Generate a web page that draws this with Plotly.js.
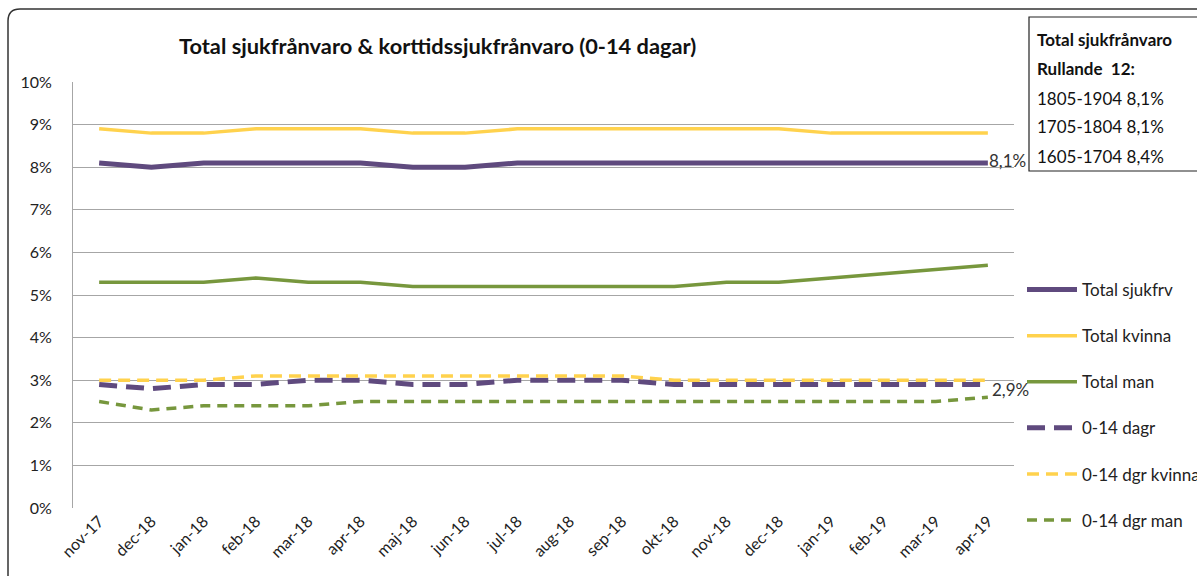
<!DOCTYPE html>
<html>
<head>
<meta charset="utf-8">
<script src="https://cdn.plot.ly/plotly-3.0.1.min.js"></script>
<style>
  html, body { margin: 0; padding: 0; background: #ffffff; }
  #chart { width: 1197px; height: 576px; }
</style>
</head>
<body>
<div id="chart"></div>
<script>
// ---- data ----
var months = ['nov-17','dec-18','jan-18','feb-18','mar-18','apr-18','maj-18','jun-18','jul-18','aug-18','sep-18','okt-18','nov-18','dec-18','jan-19','feb-19','mar-19','apr-19'];
var totalSjukfrv  = [8.1,8.0,8.1,8.1,8.1,8.1,8.0,8.0,8.1,8.1,8.1,8.1,8.1,8.1,8.1,8.1,8.1,8.1];
var totalKvinna   = [8.9,8.8,8.8,8.9,8.9,8.9,8.8,8.8,8.9,8.9,8.9,8.9,8.9,8.9,8.8,8.8,8.8,8.8];
var totalMan      = [5.3,5.3,5.3,5.4,5.3,5.3,5.2,5.2,5.2,5.2,5.2,5.2,5.3,5.3,5.4,5.5,5.6,5.7];
var dagr014       = [2.9,2.8,2.9,2.9,3.0,3.0,2.9,2.9,3.0,3.0,3.0,2.9,2.9,2.9,2.9,2.9,2.9,2.9];
var dgrKvinna014  = [3.0,3.0,3.0,3.1,3.1,3.1,3.1,3.1,3.1,3.1,3.1,3.0,3.0,3.0,3.0,3.0,3.0,3.0];
var dgrMan014     = [2.5,2.3,2.4,2.4,2.4,2.5,2.5,2.5,2.5,2.5,2.5,2.5,2.5,2.5,2.5,2.5,2.5,2.6];
var yTicks = [0,1,2,3,4,5,6,7,8,9,10];
var yTickText = ['0%','1%','2%','3%','4%','5%','6%','7%','8%','9%','10%'];
var boxLines = ['<b>Total sjukfrånvaro</b>', '<b>Rullande  12:</b>', '1805-1904 8,1%', '1705-1804 8,1%', '1605-1704 8,4%'];
var chartTitle = 'Total sjukfrånvaro & korttidssjukfrånvaro (0-14 dagar)';

// ---- styling ----
var PURPLE = '#5f4a7e';
var YELLOW = '#ffd24d';
var GREEN  = '#77973d';
var FONT = 'Lato, "Open Sans", sans-serif';
var W = 1197, H = 576;
var M = {l: 73, r: 183, t: 82, b: 68, autoexpand: false};
var pw = W - M.l - M.r, ph = H - M.t - M.b;
function px(x) { return (x - M.l) / pw; }
function py(y) { return (H - M.b - y) / ph; }

var xIdx = months.map(function (m, i) { return i; });

function tr(name, y, color, width, dash) {
  return {
    type: 'scatter', mode: 'lines', name: name, x: xIdx, y: y,
    line: {color: color, width: width, dash: dash || 'solid'},
    legendgroup: name, hoverinfo: 'skip'
  };
}

var data = [
  tr('Total sjukfrv', totalSjukfrv, PURPLE, 5),
  tr('Total kvinna', totalKvinna, YELLOW, 3.5),
  tr('Total man', totalMan, GREEN, 3.5),
  tr('0-14 dagr', dagr014, PURPLE, 5, '18px,9px'),
  tr('0-14 dgr kvinna', dgrKvinna014, YELLOW, 3.5, '12px,7px'),
  tr('0-14 dgr man', dgrMan014, GREEN, 3.5, '10px,7px')
];

var last = months.length - 1;
function fmt(v) { return v.toFixed(1).replace('.', ',') + '%'; }

var annotations = [
  {x: last, y: totalSjukfrv[last], xref: 'x', yref: 'y', text: fmt(totalSjukfrv[last]),
   showarrow: false, xanchor: 'left', yanchor: 'middle', xshift: -1, yshift: 2,
   font: {family: FONT, size: 17, color: '#333'}},
  {x: last, y: dagr014[last], xref: 'x', yref: 'y', text: fmt(dagr014[last]),
   showarrow: false, xanchor: 'left', yanchor: 'middle', xshift: 2, yshift: -5,
   font: {family: FONT, size: 17, color: '#333'}},
  {x: px(437), y: py(46), xref: 'paper', yref: 'paper', text: '<b>' + chartTitle + '</b>',
   showarrow: false, xanchor: 'center', yanchor: 'middle',
   font: {family: FONT, size: 21.8, color: '#111'}}
];
var boxY = [40, 69, 98, 127, 156];
boxLines.forEach(function (t, i) {
  annotations.push({x: px(1035), y: py(boxY[i]), xref: 'paper', yref: 'paper', text: t,
    showarrow: false, xanchor: 'left', yanchor: 'middle',
    font: {family: FONT, size: 17, color: '#111'}});
});

var r = 12;
var borderPath = 'M ' + px(8) + ',' + py(590) + ' L ' + px(8) + ',' + py(9 + r) +
  ' Q ' + px(8) + ',' + py(9) + ' ' + px(8 + r) + ',' + py(9) +
  ' L ' + px(1215) + ',' + py(9);

var layout = {
  width: W, height: H,
  margin: M,
  paper_bgcolor: '#ffffff', plot_bgcolor: '#ffffff',
  font: {family: FONT, size: 16, color: '#222'},
  showlegend: true,
  legend: {
    x: px(1022), y: py(272), xanchor: 'left', yanchor: 'top',
    traceorder: 'grouped', tracegroupgap: 21, itemwidth: 50,
    font: {family: FONT, size: 17, color: '#222'},
    bgcolor: 'rgba(0,0,0,0)', borderwidth: 0
  },
  xaxis: {
    range: [-0.5, last + 0.5], tickmode: 'array', tickvals: xIdx, ticktext: months,
    tickangle: -45, showgrid: false, zeroline: false, showline: false,
    ticks: '', tickfont: {family: FONT, size: 16, color: '#222'}, fixedrange: true
  },
  yaxis: {
    range: [0, 10], tickmode: 'array', tickvals: yTicks, ticktext: yTickText,
    showgrid: true, gridcolor: '#a6a6a6', gridwidth: 1,
    zeroline: false, showline: true, linecolor: '#a6a6a6', linewidth: 1,
    ticks: '', ticklabelstandoff: 17,
    tickfont: {family: FONT, size: 16, color: '#222'}, fixedrange: true
  },
  shapes: [
    {type: 'rect', xref: 'paper', yref: 'paper', x0: px(1029), x1: px(1260), y0: py(171), y1: py(17),
     line: {color: '#222', width: 1.2}, fillcolor: 'rgba(0,0,0,0)', layer: 'above'},
    {type: 'path', xref: 'paper', yref: 'paper', path: borderPath,
     line: {color: '#333', width: 1.5}, layer: 'above'}
  ],
  annotations: annotations
};

Plotly.newPlot('chart', data, layout, {displayModeBar: false, staticPlot: true});
</script>
</body>
</html>
